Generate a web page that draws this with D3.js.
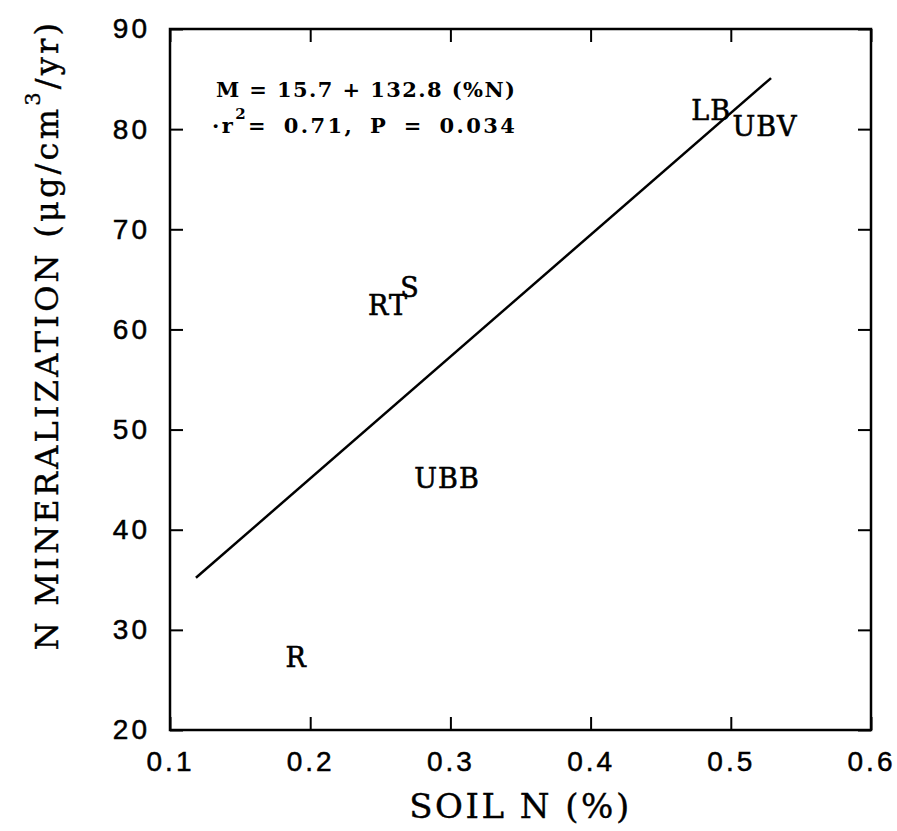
<!DOCTYPE html>
<head>
<meta charset="utf-8">
<style>
body { margin: 0; background: #fff; }
.axis text { font: 28px "Liberation Sans", sans-serif; letter-spacing: 3px; fill: #000; stroke: #000; stroke-width: 0.5; }
.axis line { stroke: #000; stroke-width: 2; }
.axis path { display: none; }
.site { font: 27px "DejaVu Serif", serif; letter-spacing: 1px; fill: #000; stroke: #000; stroke-width: 0.6; }
.eq { font: bold 21px "DejaVu Serif", serif; fill: #000; }
.title { font: 32px "DejaVu Serif", serif; fill: #000; stroke: #000; stroke-width: 0.4; }
</style>
<title>N mineralization vs soil N</title>
</head>
<body>
<svg width="897" height="831"></svg>
<script src="https://cdn.jsdelivr.net/npm/d3@7"></script>
<script>
// values
var sites = ["R", "RT", "S", "UBB", "LB", "UBV"]
var soilN = [0.190, 0.2555, 0.2712, 0.2976, 0.486, 0.5244]
var nMin = [27.3, 62.4, 64.2, 45.1, 81.9, 80.3]
var fitX = [0.1185, 0.5287]
var fitY = [35.2, 85.1]
var xTicks = [0.1, 0.2, 0.3, 0.4, 0.5, 0.6]
var yTicks = [20, 30, 40, 50, 60, 70, 80, 90]

var svg = d3.select("svg"),
    margin = {top: 29, right: 26, bottom: 101, left: 170},
    width = +svg.attr("width") - margin.left - margin.right,
    height = +svg.attr("height") - margin.top - margin.bottom

var x = d3.scaleLinear().domain([0.1, 0.6]).range([0, width]),
    y = d3.scaleLinear().domain([20, 90]).range([height, 0])

var g = svg.append("g")
    .attr("transform", "translate(" + margin.left + "," + margin.top + ")")

g.append("g")
    .attr("class", "axis")
    .attr("transform", "translate(0," + height + ")")
    .call(d3.axisBottom(x).tickValues(xTicks).tickSize(-13).tickSizeOuter(0).tickPadding(21).tickFormat(d3.format(".1f")))
g.append("g")
    .attr("class", "axis")
    .call(d3.axisTop(x).tickValues(xTicks).tickSize(-13).tickSizeOuter(0).tickFormat(""))
g.append("g")
    .attr("class", "axis")
    .call(d3.axisLeft(y).tickValues(yTicks).tickSize(-13).tickSizeOuter(0).tickPadding(20))
g.append("g")
    .attr("class", "axis")
    .attr("transform", "translate(" + width + ",0)")
    .call(d3.axisRight(y).tickValues(yTicks).tickSize(-13).tickSizeOuter(0).tickFormat(""))

g.append("rect")
    .attr("width", width)
    .attr("height", height)
    .attr("fill", "none")
    .attr("stroke", "#000")
    .attr("stroke-width", 2.5)

// regression line
g.append("path")
    .datum(d3.zip(fitX, fitY))
    .attr("fill", "none")
    .attr("stroke", "#000")
    .attr("stroke-width", 2.5)
    .attr("d", d3.line().x(d => x(d[0])).y(d => y(d[1])))

// site labels are the markers
g.selectAll(".site")
    .data(sites)
  .enter().append("text")
    .attr("class", "site")
    .attr("x", (d, i) => x(soilN[i]))
    .attr("y", (d, i) => y(nMin[i]))
    .attr("text-anchor", "middle")
    .attr("dy", "0.36em")
    .text(d => d)

var eq = g.append("g").attr("transform", "translate(46,0)")
eq.append("text")
    .attr("class", "eq")
    .attr("y", 68)
    .style("letter-spacing", "1.4px")
    .text("M = 15.7 + 132.8 (%N)")
var eq2 = eq.append("text")
    .attr("class", "eq")
    .attr("x", -4)
    .attr("y", 104)
    .style("letter-spacing", "2.4px")
    .style("word-spacing", "6px")
eq2.append("tspan").text("\u00b7r")
eq2.append("tspan").attr("dy", -14).attr("font-size", "15px").text("2")
eq2.append("tspan").attr("dy", 14).text("= 0.71, P = 0.034")

svg.append("text")
    .attr("class", "title")
    .attr("x", margin.left + width / 2)
    .attr("y", 818)
    .attr("text-anchor", "middle")
    .style("font-size", "34px")
    .style("letter-spacing", "2.5px")
    .text("SOIL N (%)")

var yt = svg.append("text")
    .attr("class", "title")
    .attr("transform", "translate(58,335) rotate(-90)")
    .attr("text-anchor", "middle")
    .style("letter-spacing", "3.2px")
yt.append("tspan").text("N MINERALIZATION (\u03bcg/cm")
yt.append("tspan").attr("dy", -18).attr("font-size", "21px").text("3")
yt.append("tspan").attr("dy", 18).text("/yr)")
</script>
</body>
